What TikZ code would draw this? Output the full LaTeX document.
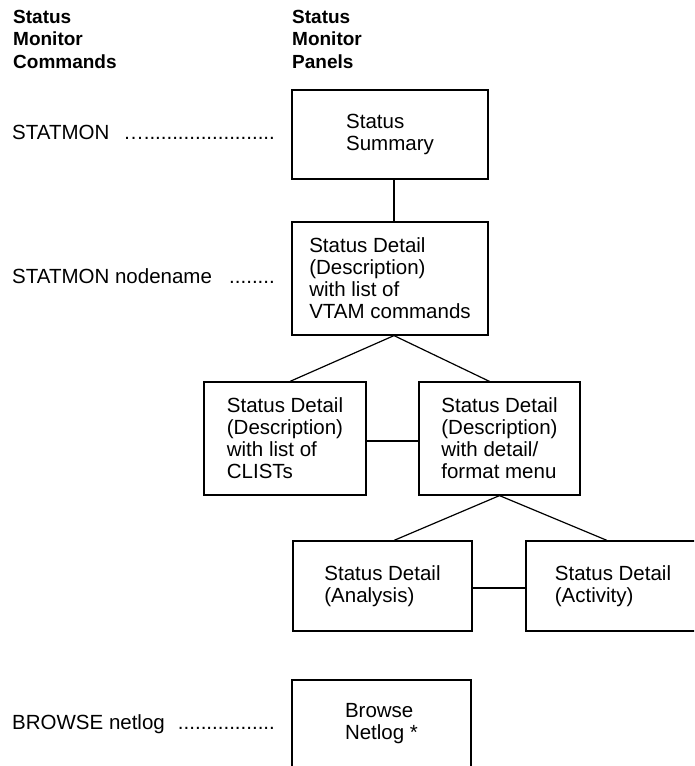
\documentclass[tikz,border=0pt]{standalone}
\usepackage{fontspec}
\setmainfont{Liberation Sans}
\begin{document}
\begin{tikzpicture}[x=1pt,y=-1pt,
  txt/.style={font=\fontsize{20.5}{22}\selectfont},
  panel/.style={txt, draw, line width=1.2pt, rectangle, align=left, inner sep=0pt},
  link/.style={line width=1.2pt},
  cmd/.style={txt, anchor=base west, inner sep=0pt},
  leader/.style={txt, anchor=base east, inner sep=0pt},
  head/.style={anchor=north west, align=left, inner sep=0pt,
               font=\fontsize{19}{22.5}\selectfont\bfseries}]
\useasboundingbox (0,0) rectangle (694,766);
\clip (0,0) rectangle (694,766);

% column headings
\node[head] (hcmd) at (13,10) {Status\\Monitor\\Commands};
\node[head] (hpan) at (292,10) {Status\\Monitor\\Panels};

% panels
\node[panel, minimum width=196pt, minimum height=89pt]  (sum) at (390,134.5) {Status\\Summary};
\node[panel, minimum width=196pt, minimum height=113pt] (det) at (390,278.5)
  {Status Detail\\(Description)\\with list of\\VTAM commands};
\node[panel, minimum width=162pt, minimum height=113pt] (cl) at (285,438.5)
  {Status Detail\\(Description)\\with list of\\CLISTs};
\node[panel, minimum width=161pt, minimum height=113pt] (fm) at (499.5,438.5)
  {Status Detail\\(Description)\\with detail/\\format menu};
\node[panel, minimum width=179pt, minimum height=90pt] (an) at (382.5,586)
  {Status Detail\\(Analysis)};
\node[panel, minimum width=174pt, minimum height=90pt] (ac) at (613,586)
  {Status Detail\\(Activity)};
\node[panel, minimum width=179pt, minimum height=88pt] (br) at (381.5,724)
  {Browse\\Netlog *};

% connectors between panels
\draw[link] ([xshift=4pt]sum.south) -- ([xshift=4pt]det.north);
\draw[link] ([xshift=4pt]det.south) -- ([xshift=5pt]cl.north);
\draw[link] ([xshift=4pt]det.south) -- ([xshift=-10pt]fm.north);
\draw[link] ([yshift=-2.5pt]cl.east) -- ([yshift=-2.5pt]fm.west);
\draw[link] (fm.south) -- ([xshift=11.5pt]an.north);
\draw[link] (fm.south) -- ([xshift=-6pt]ac.north);
\draw[link] ([yshift=-2pt]an.east) -- ([yshift=-2pt]ac.west);

% commands with dotted leaders
\node[cmd] (c1) at (12,139) {STATMON};
\node[leader] (l1) at (275,139) {….......................};
\node[cmd] (c2) at (12,283) {STATMON nodename};
\node[leader] (l2) at (275,283) {........};
\node[cmd] (c3) at (12,729) {BROWSE netlog};
\node[leader] (l3) at (275,729) {.................};
\end{tikzpicture}
\end{document}
